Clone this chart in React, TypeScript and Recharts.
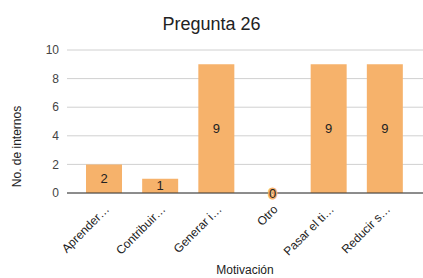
import React from 'react';
import { BarChart, Bar, XAxis, YAxis, CartesianGrid, LabelList, Label, ReferenceDot } from 'recharts';

const categories = ['Aprender…', 'Contribuir…', 'Generar i…', 'Otro', 'Pasar el ti…', 'Reducir s…'];
const counts = [2, 1, 9, 0, 9, 9];
const yTicks = [0, 2, 4, 6, 8, 10];

const data = categories.map((label, i) => ({ label, count: counts[i] }));

const FONT = '"Liberation Sans", Arial, sans-serif';
const BAR_FILL = '#f6b26b';

const AngledTick = ({ x, y, payload }: any) => (
  <text
    x={x + 6}
    y={y + 9}
    transform={`rotate(-45 ${x + 6} ${y + 9})`}
    textAnchor="end"
    fill="#222"
    fontSize={12}
    fontFamily={FONT}
  >
    {payload.value}
  </text>
);

const ValueLabel = (props: any) => {
  const { x, y, width, height, value } = props;
  return (
    <text
      x={x + width / 2}
      y={y + height / 2}
      dy={4.5}
      textAnchor="middle"
      fill="#222"
      fontSize={13}
      fontFamily={FONT}
    >
      {value}
    </text>
  );
};

// zero-height bars get no label from LabelList, so draw it at the data point
const ZeroLabel = (props: any) => (
  <text
    x={props.cx}
    y={props.cy}
    dy={4.5}
    textAnchor="middle"
    fill="#222"
    fontSize={13}
    fontFamily={FONT}
    stroke={BAR_FILL}
    strokeWidth={3}
    paintOrder="stroke"
  >
    0
  </text>
);

const YTitle = ({ viewBox }: any) => {
  const cy = viewBox.y + viewBox.height / 2 + 25;
  return (
    <text
      x={21}
      y={cy}
      transform={`rotate(-90 21 ${cy})`}
      textAnchor="middle"
      fill="#222"
      fontSize={12}
      fontFamily={FONT}
    >
      No. de internos
    </text>
  );
};

export default function App() {
  return (
    <div style={{ position: 'absolute', left: 0, top: 0, width: 423, height: 278, background: '#fff' }}>
      <div
        style={{
          position: 'absolute',
          left: 0,
          top: 14,
          width: 423,
          textAlign: 'center',
          fontFamily: FONT,
          fontSize: 18,
          color: '#222',
        }}
      >
        Pregunta 26
      </div>
      <BarChart
        width={423}
        height={278}
        data={data}
        margin={{ top: 50, right: 0, left: 20, bottom: 0 }}
        barSize={36}
      >
        <CartesianGrid horizontal vertical={false} stroke="#d0d0d0" />
        <XAxis
          dataKey="label"
          interval={0}
          height={85}
          padding={{ left: 9, right: 10 }}
          axisLine={{ stroke: '#333' }}
          tickLine={false}
          tick={<AngledTick />}
        >
          <Label
            value="Motivación"
            position="insideBottom"
            offset={4}
            fill="#222"
            fontSize={12}
            fontFamily={FONT}
          />
        </XAxis>
        <YAxis
          width={47}
          domain={[0, 10]}
          ticks={yTicks}
          axisLine={false}
          tickLine={false}
          tick={{ fill: '#444', fontSize: 12, fontFamily: FONT }}
        >
          <Label content={<YTitle />} />
        </YAxis>
        <Bar dataKey="count" fill={BAR_FILL} isAnimationActive={false}>
          <LabelList dataKey="count" content={<ValueLabel />} />
        </Bar>
        {data
          .filter((d) => d.count === 0)
          .map((d) => (
            <ReferenceDot key={d.label} x={d.label} y={d.count} r={0} shape={<ZeroLabel />} />
          ))}
      </BarChart>
    </div>
  );
}
